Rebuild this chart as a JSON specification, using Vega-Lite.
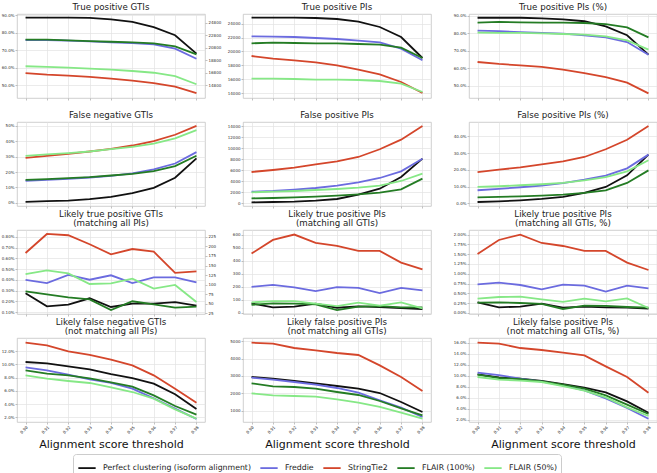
{
"$schema": "https://vega.github.io/schema/vega-lite/v6.json",
"background": "white",
"padding": {"left": 0, "top": 2, "right": 0, "bottom": 0},
"data": {"values": [
{"p":1,"s":"K","x":0.9,"v":0.887},{"p":1,"s":"K","x":0.91,"v":0.887},{"p":1,"s":"K","x":0.92,"v":0.887},{"p":1,"s":"K","x":0.93,"v":0.885},{"p":1,"s":"K","x":0.94,"v":0.877},{"p":1,"s":"K","x":0.95,"v":0.862},{"p":1,"s":"K","x":0.96,"v":0.833},{"p":1,"s":"K","x":0.97,"v":0.786},{"p":1,"s":"K","x":0.98,"v":0.681},
{"p":1,"s":"F","x":0.9,"v":0.759},{"p":1,"s":"F","x":0.91,"v":0.759},{"p":1,"s":"F","x":0.92,"v":0.755},{"p":1,"s":"F","x":0.93,"v":0.751},{"p":1,"s":"F","x":0.94,"v":0.746},{"p":1,"s":"F","x":0.95,"v":0.742},{"p":1,"s":"F","x":0.96,"v":0.734},{"p":1,"s":"F","x":0.97,"v":0.71},{"p":1,"s":"F","x":0.98,"v":0.652},
{"p":1,"s":"S","x":0.9,"v":0.57},{"p":1,"s":"S","x":0.91,"v":0.561},{"p":1,"s":"S","x":0.92,"v":0.555},{"p":1,"s":"S","x":0.93,"v":0.548},{"p":1,"s":"S","x":0.94,"v":0.538},{"p":1,"s":"S","x":0.95,"v":0.527},{"p":1,"s":"S","x":0.96,"v":0.513},{"p":1,"s":"S","x":0.97,"v":0.492},{"p":1,"s":"S","x":0.98,"v":0.456},
{"p":1,"s":"G","x":0.9,"v":0.761},{"p":1,"s":"G","x":0.91,"v":0.761},{"p":1,"s":"G","x":0.92,"v":0.757},{"p":1,"s":"G","x":0.93,"v":0.753},{"p":1,"s":"G","x":0.94,"v":0.749},{"p":1,"s":"G","x":0.95,"v":0.746},{"p":1,"s":"G","x":0.96,"v":0.74},{"p":1,"s":"G","x":0.97,"v":0.723},{"p":1,"s":"G","x":0.98,"v":0.677},
{"p":1,"s":"L","x":0.9,"v":0.609},{"p":1,"s":"L","x":0.91,"v":0.605},{"p":1,"s":"L","x":0.92,"v":0.601},{"p":1,"s":"L","x":0.93,"v":0.595},{"p":1,"s":"L","x":0.94,"v":0.59},{"p":1,"s":"L","x":0.95,"v":0.582},{"p":1,"s":"L","x":0.96,"v":0.572},{"p":1,"s":"L","x":0.97,"v":0.553},{"p":1,"s":"L","x":0.98,"v":0.506},
{"p":2,"s":"K","x":0.9,"v":24865},{"p":2,"s":"K","x":0.91,"v":24865},{"p":2,"s":"K","x":0.92,"v":24865},{"p":2,"s":"K","x":0.93,"v":24817},{"p":2,"s":"K","x":0.94,"v":24673},{"p":2,"s":"K","x":0.95,"v":24288},{"p":2,"s":"K","x":0.96,"v":23519},{"p":2,"s":"K","x":0.97,"v":22077},{"p":2,"s":"K","x":0.98,"v":19048},
{"p":2,"s":"F","x":0.9,"v":22173},{"p":2,"s":"F","x":0.91,"v":22125},{"p":2,"s":"F","x":0.92,"v":22077},{"p":2,"s":"F","x":0.93,"v":21933},{"p":2,"s":"F","x":0.94,"v":21788},{"p":2,"s":"F","x":0.95,"v":21548},{"p":2,"s":"F","x":0.96,"v":21308},{"p":2,"s":"F","x":0.97,"v":20394},{"p":2,"s":"F","x":0.98,"v":18712},
{"p":2,"s":"S","x":0.9,"v":19337},{"p":2,"s":"S","x":0.91,"v":18952},{"p":2,"s":"S","x":0.92,"v":18712},{"p":2,"s":"S","x":0.93,"v":18423},{"p":2,"s":"S","x":0.94,"v":17990},{"p":2,"s":"S","x":0.95,"v":17365},{"p":2,"s":"S","x":0.96,"v":16692},{"p":2,"s":"S","x":0.97,"v":15587},{"p":2,"s":"S","x":0.98,"v":14000},
{"p":2,"s":"G","x":0.9,"v":21163},{"p":2,"s":"G","x":0.91,"v":21260},{"p":2,"s":"G","x":0.92,"v":21212},{"p":2,"s":"G","x":0.93,"v":21163},{"p":2,"s":"G","x":0.94,"v":21163},{"p":2,"s":"G","x":0.95,"v":21067},{"p":2,"s":"G","x":0.96,"v":20971},{"p":2,"s":"G","x":0.97,"v":20538},{"p":2,"s":"G","x":0.98,"v":19048},
{"p":2,"s":"L","x":0.9,"v":16067},{"p":2,"s":"L","x":0.91,"v":16067},{"p":2,"s":"L","x":0.92,"v":16019},{"p":2,"s":"L","x":0.93,"v":15923},{"p":2,"s":"L","x":0.94,"v":15923},{"p":2,"s":"L","x":0.95,"v":15875},{"p":2,"s":"L","x":0.96,"v":15731},{"p":2,"s":"L","x":0.97,"v":15346},{"p":2,"s":"L","x":0.98,"v":14144},
{"p":3,"s":"K","x":0.9,"v":0.89},{"p":3,"s":"K","x":0.91,"v":0.89},{"p":3,"s":"K","x":0.92,"v":0.89},{"p":3,"s":"K","x":0.93,"v":0.886},{"p":3,"s":"K","x":0.94,"v":0.881},{"p":3,"s":"K","x":0.95,"v":0.87},{"p":3,"s":"K","x":0.96,"v":0.841},{"p":3,"s":"K","x":0.97,"v":0.79},{"p":3,"s":"K","x":0.98,"v":0.679},
{"p":3,"s":"F","x":0.9,"v":0.816},{"p":3,"s":"F","x":0.91,"v":0.813},{"p":3,"s":"F","x":0.92,"v":0.808},{"p":3,"s":"F","x":0.93,"v":0.804},{"p":3,"s":"F","x":0.94,"v":0.799},{"p":3,"s":"F","x":0.95,"v":0.79},{"p":3,"s":"F","x":0.96,"v":0.778},{"p":3,"s":"F","x":0.97,"v":0.751},{"p":3,"s":"F","x":0.98,"v":0.679},
{"p":3,"s":"S","x":0.9,"v":0.637},{"p":3,"s":"S","x":0.91,"v":0.626},{"p":3,"s":"S","x":0.92,"v":0.618},{"p":3,"s":"S","x":0.93,"v":0.609},{"p":3,"s":"S","x":0.94,"v":0.593},{"p":3,"s":"S","x":0.95,"v":0.574},{"p":3,"s":"S","x":0.96,"v":0.551},{"p":3,"s":"S","x":0.97,"v":0.519},{"p":3,"s":"S","x":0.98,"v":0.458},
{"p":3,"s":"G","x":0.9,"v":0.862},{"p":3,"s":"G","x":0.91,"v":0.866},{"p":3,"s":"G","x":0.92,"v":0.864},{"p":3,"s":"G","x":0.93,"v":0.862},{"p":3,"s":"G","x":0.94,"v":0.862},{"p":3,"s":"G","x":0.95,"v":0.86},{"p":3,"s":"G","x":0.96,"v":0.854},{"p":3,"s":"G","x":0.97,"v":0.835},{"p":3,"s":"G","x":0.98,"v":0.778},
{"p":3,"s":"L","x":0.9,"v":0.805},{"p":3,"s":"L","x":0.91,"v":0.803},{"p":3,"s":"L","x":0.92,"v":0.803},{"p":3,"s":"L","x":0.93,"v":0.801},{"p":3,"s":"L","x":0.94,"v":0.797},{"p":3,"s":"L","x":0.95,"v":0.793},{"p":3,"s":"L","x":0.96,"v":0.784},{"p":3,"s":"L","x":0.97,"v":0.761},{"p":3,"s":"L","x":0.98,"v":0.708},
{"p":4,"s":"K","x":0.9,"v":0.0065},{"p":4,"s":"K","x":0.91,"v":0.011},{"p":4,"s":"K","x":0.92,"v":0.015},{"p":4,"s":"K","x":0.93,"v":0.024},{"p":4,"s":"K","x":0.94,"v":0.039},{"p":4,"s":"K","x":0.95,"v":0.063},{"p":4,"s":"K","x":0.96,"v":0.098},{"p":4,"s":"K","x":0.97,"v":0.163},{"p":4,"s":"K","x":0.98,"v":0.289},
{"p":4,"s":"F","x":0.9,"v":0.143},{"p":4,"s":"F","x":0.91,"v":0.15},{"p":4,"s":"F","x":0.92,"v":0.156},{"p":4,"s":"F","x":0.93,"v":0.165},{"p":4,"s":"F","x":0.94,"v":0.176},{"p":4,"s":"F","x":0.95,"v":0.191},{"p":4,"s":"F","x":0.96,"v":0.217},{"p":4,"s":"F","x":0.97,"v":0.256},{"p":4,"s":"F","x":0.98,"v":0.33},
{"p":4,"s":"S","x":0.9,"v":0.293},{"p":4,"s":"S","x":0.91,"v":0.306},{"p":4,"s":"S","x":0.92,"v":0.319},{"p":4,"s":"S","x":0.93,"v":0.334},{"p":4,"s":"S","x":0.94,"v":0.351},{"p":4,"s":"S","x":0.95,"v":0.373},{"p":4,"s":"S","x":0.96,"v":0.401},{"p":4,"s":"S","x":0.97,"v":0.443},{"p":4,"s":"S","x":0.98,"v":0.501},
{"p":4,"s":"G","x":0.9,"v":0.15},{"p":4,"s":"G","x":0.91,"v":0.154},{"p":4,"s":"G","x":0.92,"v":0.161},{"p":4,"s":"G","x":0.93,"v":0.167},{"p":4,"s":"G","x":0.94,"v":0.178},{"p":4,"s":"G","x":0.95,"v":0.189},{"p":4,"s":"G","x":0.96,"v":0.206},{"p":4,"s":"G","x":0.97,"v":0.239},{"p":4,"s":"G","x":0.98,"v":0.306},
{"p":4,"s":"L","x":0.9,"v":0.306},{"p":4,"s":"L","x":0.91,"v":0.315},{"p":4,"s":"L","x":0.92,"v":0.323},{"p":4,"s":"L","x":0.93,"v":0.334},{"p":4,"s":"L","x":0.94,"v":0.349},{"p":4,"s":"L","x":0.95,"v":0.364},{"p":4,"s":"L","x":0.96,"v":0.386},{"p":4,"s":"L","x":0.97,"v":0.419},{"p":4,"s":"L","x":0.98,"v":0.473},
{"p":5,"s":"K","x":0.9,"v":181},{"p":5,"s":"K","x":0.91,"v":242},{"p":5,"s":"K","x":0.92,"v":302},{"p":5,"s":"K","x":0.93,"v":483},{"p":5,"s":"K","x":0.94,"v":785},{"p":5,"s":"K","x":0.95,"v":1571},{"p":5,"s":"K","x":0.96,"v":2659},{"p":5,"s":"K","x":0.97,"v":4773},{"p":5,"s":"K","x":0.98,"v":8097},
{"p":5,"s":"F","x":0.9,"v":2115},{"p":5,"s":"F","x":0.91,"v":2236},{"p":5,"s":"F","x":0.92,"v":2477},{"p":5,"s":"F","x":0.93,"v":2779},{"p":5,"s":"F","x":0.94,"v":3202},{"p":5,"s":"F","x":0.95,"v":3807},{"p":5,"s":"F","x":0.96,"v":4592},{"p":5,"s":"F","x":0.97,"v":5801},{"p":5,"s":"F","x":0.98,"v":8097},
{"p":5,"s":"S","x":0.9,"v":5680},{"p":5,"s":"S","x":0.91,"v":6042},{"p":5,"s":"S","x":0.92,"v":6465},{"p":5,"s":"S","x":0.93,"v":7069},{"p":5,"s":"S","x":0.94,"v":7613},{"p":5,"s":"S","x":0.95,"v":8399},{"p":5,"s":"S","x":0.96,"v":9800},{"p":5,"s":"S","x":0.97,"v":11540},{"p":5,"s":"S","x":0.98,"v":14020},
{"p":5,"s":"G","x":0.9,"v":906},{"p":5,"s":"G","x":0.91,"v":967},{"p":5,"s":"G","x":0.92,"v":1088},{"p":5,"s":"G","x":0.93,"v":1208},{"p":5,"s":"G","x":0.94,"v":1390},{"p":5,"s":"G","x":0.95,"v":1631},{"p":5,"s":"G","x":0.96,"v":1934},{"p":5,"s":"G","x":0.97,"v":2538},{"p":5,"s":"G","x":0.98,"v":4471},
{"p":5,"s":"L","x":0.9,"v":1994},{"p":5,"s":"L","x":0.91,"v":2115},{"p":5,"s":"L","x":0.92,"v":2236},{"p":5,"s":"L","x":0.93,"v":2417},{"p":5,"s":"L","x":0.94,"v":2598},{"p":5,"s":"L","x":0.95,"v":2840},{"p":5,"s":"L","x":0.96,"v":3202},{"p":5,"s":"L","x":0.97,"v":4048},{"p":5,"s":"L","x":0.98,"v":5378},
{"p":6,"s":"K","x":0.9,"v":0.008},{"p":6,"s":"K","x":0.91,"v":0.012},{"p":6,"s":"K","x":0.92,"v":0.018},{"p":6,"s":"K","x":0.93,"v":0.026},{"p":6,"s":"K","x":0.94,"v":0.038},{"p":6,"s":"K","x":0.95,"v":0.062},{"p":6,"s":"K","x":0.96,"v":0.098},{"p":6,"s":"K","x":0.97,"v":0.167},{"p":6,"s":"K","x":0.98,"v":0.291},
{"p":6,"s":"F","x":0.9,"v":0.078},{"p":6,"s":"F","x":0.91,"v":0.086},{"p":6,"s":"F","x":0.92,"v":0.096},{"p":6,"s":"F","x":0.93,"v":0.106},{"p":6,"s":"F","x":0.94,"v":0.121},{"p":6,"s":"F","x":0.95,"v":0.141},{"p":6,"s":"F","x":0.96,"v":0.165},{"p":6,"s":"F","x":0.97,"v":0.209},{"p":6,"s":"F","x":0.98,"v":0.291},
{"p":6,"s":"S","x":0.9,"v":0.187},{"p":6,"s":"S","x":0.91,"v":0.201},{"p":6,"s":"S","x":0.92,"v":0.215},{"p":6,"s":"S","x":0.93,"v":0.233},{"p":6,"s":"S","x":0.94,"v":0.251},{"p":6,"s":"S","x":0.95,"v":0.277},{"p":6,"s":"S","x":0.96,"v":0.323},{"p":6,"s":"S","x":0.97,"v":0.38},{"p":6,"s":"S","x":0.98,"v":0.462},
{"p":6,"s":"G","x":0.9,"v":0.036},{"p":6,"s":"G","x":0.91,"v":0.038},{"p":6,"s":"G","x":0.92,"v":0.042},{"p":6,"s":"G","x":0.93,"v":0.046},{"p":6,"s":"G","x":0.94,"v":0.052},{"p":6,"s":"G","x":0.95,"v":0.062},{"p":6,"s":"G","x":0.96,"v":0.078},{"p":6,"s":"G","x":0.97,"v":0.122},{"p":6,"s":"G","x":0.98,"v":0.197},
{"p":6,"s":"L","x":0.9,"v":0.098},{"p":6,"s":"L","x":0.91,"v":0.102},{"p":6,"s":"L","x":0.92,"v":0.108},{"p":6,"s":"L","x":0.93,"v":0.114},{"p":6,"s":"L","x":0.94,"v":0.122},{"p":6,"s":"L","x":0.95,"v":0.137},{"p":6,"s":"L","x":0.96,"v":0.157},{"p":6,"s":"L","x":0.97,"v":0.191},{"p":6,"s":"L","x":0.98,"v":0.257},
{"p":7,"s":"K","x":0.9,"v":0.00275},{"p":7,"s":"K","x":0.91,"v":0.00154},{"p":7,"s":"K","x":0.92,"v":0.0017},{"p":7,"s":"K","x":0.93,"v":0.00229},{"p":7,"s":"K","x":0.94,"v":0.00148},{"p":7,"s":"K","x":0.95,"v":0.00179},{"p":7,"s":"K","x":0.96,"v":0.00179},{"p":7,"s":"K","x":0.97,"v":0.00194},{"p":7,"s":"K","x":0.98,"v":0.0016},
{"p":7,"s":"F","x":0.9,"v":0.004},{"p":7,"s":"F","x":0.91,"v":0.00371},{"p":7,"s":"F","x":0.92,"v":0.00446},{"p":7,"s":"F","x":0.93,"v":0.00402},{"p":7,"s":"F","x":0.94,"v":0.00443},{"p":7,"s":"F","x":0.95,"v":0.00371},{"p":7,"s":"F","x":0.96,"v":0.00424},{"p":7,"s":"F","x":0.97,"v":0.00424},{"p":7,"s":"F","x":0.98,"v":0.00378},
{"p":7,"s":"S","x":0.9,"v":0.00651},{"p":7,"s":"S","x":0.91,"v":0.00828},{"p":7,"s":"S","x":0.92,"v":0.00816},{"p":7,"s":"S","x":0.93,"v":0.00732},{"p":7,"s":"S","x":0.94,"v":0.00639},{"p":7,"s":"S","x":0.95,"v":0.00688},{"p":7,"s":"S","x":0.96,"v":0.00663},{"p":7,"s":"S","x":0.97,"v":0.00465},{"p":7,"s":"S","x":0.98,"v":0.0048},
{"p":7,"s":"G","x":0.9,"v":0.00294},{"p":7,"s":"G","x":0.91,"v":0.00266},{"p":7,"s":"G","x":0.92,"v":0.00238},{"p":7,"s":"G","x":0.93,"v":0.00219},{"p":7,"s":"G","x":0.94,"v":0.0012},{"p":7,"s":"G","x":0.95,"v":0.00201},{"p":7,"s":"G","x":0.96,"v":0.00173},{"p":7,"s":"G","x":0.97,"v":0.00142},{"p":7,"s":"G","x":0.98,"v":0.00151},
{"p":7,"s":"L","x":0.9,"v":0.00455},{"p":7,"s":"L","x":0.91,"v":0.00489},{"p":7,"s":"L","x":0.92,"v":0.00461},{"p":7,"s":"L","x":0.93,"v":0.00362},{"p":7,"s":"L","x":0.94,"v":0.00368},{"p":7,"s":"L","x":0.95,"v":0.00412},{"p":7,"s":"L","x":0.96,"v":0.00319},{"p":7,"s":"L","x":0.97,"v":0.00353},{"p":7,"s":"L","x":0.98,"v":0.00194},
{"p":8,"s":"K","x":0.9,"v":71},{"p":8,"s":"K","x":0.91,"v":41},{"p":8,"s":"K","x":0.92,"v":46},{"p":8,"s":"K","x":0.93,"v":69},{"p":8,"s":"K","x":0.94,"v":38},{"p":8,"s":"K","x":0.95,"v":48},{"p":8,"s":"K","x":0.96,"v":43},{"p":8,"s":"K","x":0.97,"v":36},{"p":8,"s":"K","x":0.98,"v":28},
{"p":8,"s":"F","x":0.9,"v":199},{"p":8,"s":"F","x":0.91,"v":214},{"p":8,"s":"F","x":0.92,"v":194},{"p":8,"s":"F","x":0.93,"v":166},{"p":8,"s":"F","x":0.94,"v":196},{"p":8,"s":"F","x":0.95,"v":191},{"p":8,"s":"F","x":0.96,"v":151},{"p":8,"s":"F","x":0.97,"v":191},{"p":8,"s":"F","x":0.98,"v":171},
{"p":8,"s":"S","x":0.9,"v":454},{"p":8,"s":"S","x":0.91,"v":559},{"p":8,"s":"S","x":0.92,"v":600},{"p":8,"s":"S","x":0.93,"v":536},{"p":8,"s":"S","x":0.94,"v":513},{"p":8,"s":"S","x":0.95,"v":474},{"p":8,"s":"S","x":0.96,"v":474},{"p":8,"s":"S","x":0.97,"v":385},{"p":8,"s":"S","x":0.98,"v":332},
{"p":8,"s":"G","x":0.9,"v":61},{"p":8,"s":"G","x":0.91,"v":71},{"p":8,"s":"G","x":0.92,"v":69},{"p":8,"s":"G","x":0.93,"v":64},{"p":8,"s":"G","x":0.94,"v":20},{"p":8,"s":"G","x":0.95,"v":46},{"p":8,"s":"G","x":0.96,"v":51},{"p":8,"s":"G","x":0.97,"v":41},{"p":8,"s":"G","x":0.98,"v":41},
{"p":8,"s":"L","x":0.9,"v":79},{"p":8,"s":"L","x":0.91,"v":89},{"p":8,"s":"L","x":0.92,"v":89},{"p":8,"s":"L","x":0.93,"v":69},{"p":8,"s":"L","x":0.94,"v":51},{"p":8,"s":"L","x":0.95,"v":77},{"p":8,"s":"L","x":0.96,"v":54},{"p":8,"s":"L","x":0.97,"v":79},{"p":8,"s":"L","x":0.98,"v":33},
{"p":9,"s":"K","x":0.9,"v":0.00272},{"p":9,"s":"K","x":0.91,"v":0.00145},{"p":9,"s":"K","x":0.92,"v":0.00162},{"p":9,"s":"K","x":0.93,"v":0.00238},{"p":9,"s":"K","x":0.94,"v":0.00136},{"p":9,"s":"K","x":0.95,"v":0.00162},{"p":9,"s":"K","x":0.96,"v":0.00145},{"p":9,"s":"K","x":0.97,"v":0.00136},{"p":9,"s":"K","x":0.98,"v":0.00111},
{"p":9,"s":"F","x":0.9,"v":0.00731},{"p":9,"s":"F","x":0.91,"v":0.00774},{"p":9,"s":"F","x":0.92,"v":0.00714},{"p":9,"s":"F","x":0.93,"v":0.00604},{"p":9,"s":"F","x":0.94,"v":0.00723},{"p":9,"s":"F","x":0.95,"v":0.00697},{"p":9,"s":"F","x":0.96,"v":0.00544},{"p":9,"s":"F","x":0.97,"v":0.00697},{"p":9,"s":"F","x":0.98,"v":0.00629},
{"p":9,"s":"S","x":0.9,"v":0.01505},{"p":9,"s":"S","x":0.91,"v":0.01862},{"p":9,"s":"S","x":0.92,"v":0.02},{"p":9,"s":"S","x":0.93,"v":0.01786},{"p":9,"s":"S","x":0.94,"v":0.01709},{"p":9,"s":"S","x":0.95,"v":0.01582},{"p":9,"s":"S","x":0.96,"v":0.01582},{"p":9,"s":"S","x":0.97,"v":0.01284},{"p":9,"s":"S","x":0.98,"v":0.01097},
{"p":9,"s":"G","x":0.9,"v":0.00264},{"p":9,"s":"G","x":0.91,"v":0.00272},{"p":9,"s":"G","x":0.92,"v":0.00255},{"p":9,"s":"G","x":0.93,"v":0.0023},{"p":9,"s":"G","x":0.94,"v":0.00102},{"p":9,"s":"G","x":0.95,"v":0.00187},{"p":9,"s":"G","x":0.96,"v":0.00179},{"p":9,"s":"G","x":0.97,"v":0.00153},{"p":9,"s":"G","x":0.98,"v":0.00136},
{"p":9,"s":"L","x":0.9,"v":0.00366},{"p":9,"s":"L","x":0.91,"v":0.00408},{"p":9,"s":"L","x":0.92,"v":0.00417},{"p":9,"s":"L","x":0.93,"v":0.00349},{"p":9,"s":"L","x":0.94,"v":0.00281},{"p":9,"s":"L","x":0.95,"v":0.00366},{"p":9,"s":"L","x":0.96,"v":0.00298},{"p":9,"s":"L","x":0.97,"v":0.00374},{"p":9,"s":"L","x":0.98,"v":0.00128},
{"p":10,"s":"K","x":0.9,"v":0.1034},{"p":10,"s":"K","x":0.91,"v":0.1015},{"p":10,"s":"K","x":0.92,"v":0.0969},{"p":10,"s":"K","x":0.93,"v":0.0924},{"p":10,"s":"K","x":0.94,"v":0.0853},{"p":10,"s":"K","x":0.95,"v":0.0793},{"p":10,"s":"K","x":0.96,"v":0.0709},{"p":10,"s":"K","x":0.97,"v":0.0548},{"p":10,"s":"K","x":0.98,"v":0.0326},
{"p":10,"s":"F","x":0.9,"v":0.0954},{"p":10,"s":"F","x":0.91,"v":0.0908},{"p":10,"s":"F","x":0.92,"v":0.0843},{"p":10,"s":"F","x":0.93,"v":0.0773},{"p":10,"s":"F","x":0.94,"v":0.0718},{"p":10,"s":"F","x":0.95,"v":0.0632},{"p":10,"s":"F","x":0.96,"v":0.0487},{"p":10,"s":"F","x":0.97,"v":0.0331},{"p":10,"s":"F","x":0.98,"v":0.0175},
{"p":10,"s":"S","x":0.9,"v":0.1326},{"p":10,"s":"S","x":0.91,"v":0.1285},{"p":10,"s":"S","x":0.92,"v":0.1195},{"p":10,"s":"S","x":0.93,"v":0.114},{"p":10,"s":"S","x":0.94,"v":0.1069},{"p":10,"s":"S","x":0.95,"v":0.0984},{"p":10,"s":"S","x":0.96,"v":0.0833},{"p":10,"s":"S","x":0.97,"v":0.0632},{"p":10,"s":"S","x":0.98,"v":0.0421},
{"p":10,"s":"G","x":0.9,"v":0.0908},{"p":10,"s":"G","x":0.91,"v":0.0858},{"p":10,"s":"G","x":0.92,"v":0.0833},{"p":10,"s":"G","x":0.93,"v":0.0788},{"p":10,"s":"G","x":0.94,"v":0.0728},{"p":10,"s":"G","x":0.95,"v":0.0662},{"p":10,"s":"G","x":0.96,"v":0.0532},{"p":10,"s":"G","x":0.97,"v":0.0371},{"p":10,"s":"G","x":0.98,"v":0.024},
{"p":10,"s":"L","x":0.9,"v":0.0833},{"p":10,"s":"L","x":0.91,"v":0.0783},{"p":10,"s":"L","x":0.92,"v":0.0748},{"p":10,"s":"L","x":0.93,"v":0.0718},{"p":10,"s":"L","x":0.94,"v":0.0652},{"p":10,"s":"L","x":0.95,"v":0.0582},{"p":10,"s":"L","x":0.96,"v":0.0481},{"p":10,"s":"L","x":0.97,"v":0.0321},{"p":10,"s":"L","x":0.98,"v":0.018},
{"p":11,"s":"K","x":0.9,"v":2942},{"p":11,"s":"K","x":0.91,"v":2846},{"p":11,"s":"K","x":0.92,"v":2712},{"p":11,"s":"K","x":0.93,"v":2577},{"p":11,"s":"K","x":0.94,"v":2423},{"p":11,"s":"K","x":0.95,"v":2269},{"p":11,"s":"K","x":0.96,"v":2019},{"p":11,"s":"K","x":0.97,"v":1500},{"p":11,"s":"K","x":0.98,"v":923},
{"p":11,"s":"F","x":0.9,"v":2904},{"p":11,"s":"F","x":0.91,"v":2788},{"p":11,"s":"F","x":0.92,"v":2654},{"p":11,"s":"F","x":0.93,"v":2500},{"p":11,"s":"F","x":0.94,"v":2308},{"p":11,"s":"F","x":0.95,"v":2038},{"p":11,"s":"F","x":0.96,"v":1596},{"p":11,"s":"F","x":0.97,"v":1173},{"p":11,"s":"F","x":0.98,"v":635},
{"p":11,"s":"S","x":0.9,"v":4923},{"p":11,"s":"S","x":0.91,"v":4865},{"p":11,"s":"S","x":0.92,"v":4615},{"p":11,"s":"S","x":0.93,"v":4481},{"p":11,"s":"S","x":0.94,"v":4327},{"p":11,"s":"S","x":0.95,"v":4212},{"p":11,"s":"S","x":0.96,"v":3615},{"p":11,"s":"S","x":0.97,"v":2942},{"p":11,"s":"S","x":0.98,"v":2135},
{"p":11,"s":"G","x":0.9,"v":2577},{"p":11,"s":"G","x":0.91,"v":2404},{"p":11,"s":"G","x":0.92,"v":2365},{"p":11,"s":"G","x":0.93,"v":2269},{"p":11,"s":"G","x":0.94,"v":2077},{"p":11,"s":"G","x":0.95,"v":1904},{"p":11,"s":"G","x":0.96,"v":1558},{"p":11,"s":"G","x":0.97,"v":1135},{"p":11,"s":"G","x":0.98,"v":731},
{"p":11,"s":"L","x":0.9,"v":2000},{"p":11,"s":"L","x":0.91,"v":1885},{"p":11,"s":"L","x":0.92,"v":1846},{"p":11,"s":"L","x":0.93,"v":1808},{"p":11,"s":"L","x":0.94,"v":1654},{"p":11,"s":"L","x":0.95,"v":1462},{"p":11,"s":"L","x":0.96,"v":1212},{"p":11,"s":"L","x":0.97,"v":885},{"p":11,"s":"L","x":0.98,"v":538},
{"p":12,"s":"K","x":0.9,"v":0.1024},{"p":12,"s":"K","x":0.91,"v":0.097},{"p":12,"s":"K","x":0.92,"v":0.0945},{"p":12,"s":"K","x":0.93,"v":0.0903},{"p":12,"s":"K","x":0.94,"v":0.0848},{"p":12,"s":"K","x":0.95,"v":0.0782},{"p":12,"s":"K","x":0.96,"v":0.0697},{"p":12,"s":"K","x":0.97,"v":0.0533},{"p":12,"s":"K","x":0.98,"v":0.0327},
{"p":12,"s":"F","x":0.9,"v":0.1055},{"p":12,"s":"F","x":0.91,"v":0.1012},{"p":12,"s":"F","x":0.92,"v":0.0945},{"p":12,"s":"F","x":0.93,"v":0.0891},{"p":12,"s":"F","x":0.94,"v":0.0824},{"p":12,"s":"F","x":0.95,"v":0.0733},{"p":12,"s":"F","x":0.96,"v":0.0588},{"p":12,"s":"F","x":0.97,"v":0.0412},{"p":12,"s":"F","x":0.98,"v":0.0218},
{"p":12,"s":"S","x":0.9,"v":0.16},{"p":12,"s":"S","x":0.91,"v":0.1582},{"p":12,"s":"S","x":0.92,"v":0.1503},{"p":12,"s":"S","x":0.93,"v":0.1467},{"p":12,"s":"S","x":0.94,"v":0.1418},{"p":12,"s":"S","x":0.95,"v":0.137},{"p":12,"s":"S","x":0.96,"v":0.117},{"p":12,"s":"S","x":0.97,"v":0.0976},{"p":12,"s":"S","x":0.98,"v":0.0691},
{"p":12,"s":"G","x":0.9,"v":0.1018},{"p":12,"s":"G","x":0.91,"v":0.0958},{"p":12,"s":"G","x":0.92,"v":0.0939},{"p":12,"s":"G","x":0.93,"v":0.0897},{"p":12,"s":"G","x":0.94,"v":0.0836},{"p":12,"s":"G","x":0.95,"v":0.0764},{"p":12,"s":"G","x":0.96,"v":0.0642},{"p":12,"s":"G","x":0.97,"v":0.0473},{"p":12,"s":"G","x":0.98,"v":0.0303},
{"p":12,"s":"L","x":0.9,"v":0.0976},{"p":12,"s":"L","x":0.91,"v":0.0927},{"p":12,"s":"L","x":0.92,"v":0.0909},{"p":12,"s":"L","x":0.93,"v":0.0885},{"p":12,"s":"L","x":0.94,"v":0.0812},{"p":12,"s":"L","x":0.95,"v":0.0727},{"p":12,"s":"L","x":0.96,"v":0.0606},{"p":12,"s":"L","x":0.97,"v":0.0424},{"p":12,"s":"L","x":0.98,"v":0.0267}
]},
"columns": 3,
"spacing": {"row": 24, "column": 38},
"bounds": "flush",
"concat": [
{"title": "True positive GTIs", "width": 188, "height": 84,
 "layer": [
  {"transform": [{"filter": "datum.p == 1"}], "mark": "line",
   "encoding": {
    "x": {"field": "x", "type": "quantitative", "scale": {"domain": [0.896, 0.984], "nice": false}, "axis": {"values": [0.9,0.91,0.92,0.93,0.94,0.95,0.96,0.97,0.98], "labels": false, "title": null}},
    "y": {"field": "v", "type": "quantitative", "scale": {"domain": [0.4276, 0.9076], "nice": false, "zero": false}, "axis": {"values": [0.5,0.6,0.7,0.8,0.9], "format": ".1%", "title": null}},
    "color": {"field": "s", "type": "nominal", "scale": {"domain": ["K","F","S","G","L"]}, "legend": {"title": null, "labelExpr": "datum.label == 'K' ? 'Perfect clustering (isoform alignment)' : datum.label == 'F' ? 'Freddie' : datum.label == 'S' ? 'StringTie2' : datum.label == 'G' ? 'FLAIR (100%)' : 'FLAIR (50%)'"}}}},
  {"data": {"values": [{}]}, "mark": {"type": "rule", "opacity": 0},
   "encoding": {"y": {"datum": 20000, "type": "quantitative", "scale": {"domain": [12779, 26183], "nice": false, "zero": false}, "axis": {"orient": "right", "values": [14800,16800,18800,20800,22800,24800], "format": "d", "grid": false, "title": null}}}}
 ],
 "resolve": {"scale": {"y": "independent"}}
},
{"title": "True positive PIs", "width": 188, "height": 84,
 "transform": [{"filter": "datum.p == 2"}], "mark": "line",
 "encoding": {
  "x": {"field": "x", "type": "quantitative", "scale": {"domain": [0.896, 0.984], "nice": false}, "axis": {"values": [0.9,0.91,0.92,0.93,0.94,0.95,0.96,0.97,0.98], "labels": false, "title": null}},
  "y": {"field": "v", "type": "quantitative", "scale": {"domain": [13279, 25394], "nice": false, "zero": false}, "axis": {"values": [14000,16000,18000,20000,22000,24000], "format": "d", "title": null}},
  "color": {"field": "s", "type": "nominal", "scale": {"domain": ["K","F","S","G","L"]}, "legend": {"title": null, "labelExpr": "datum.label == 'K' ? 'Perfect clustering (isoform alignment)' : datum.label == 'F' ? 'Freddie' : datum.label == 'S' ? 'StringTie2' : datum.label == 'G' ? 'FLAIR (100%)' : 'FLAIR (50%)'"}}}
},
{"title": "True positive PIs (%)", "width": 188, "height": 84,
 "transform": [{"filter": "datum.p == 3"}], "mark": "line",
 "encoding": {
  "x": {"field": "x", "type": "quantitative", "scale": {"domain": [0.896, 0.984], "nice": false}, "axis": {"values": [0.9,0.91,0.92,0.93,0.94,0.95,0.96,0.97,0.98], "labels": false, "title": null}},
  "y": {"field": "v", "type": "quantitative", "scale": {"domain": [0.4314, 0.9114], "nice": false, "zero": false}, "axis": {"values": [0.5,0.6,0.7,0.8,0.9], "format": ".1%", "title": null}},
  "color": {"field": "s", "type": "nominal", "scale": {"domain": ["K","F","S","G","L"]}, "legend": {"title": null, "labelExpr": "datum.label == 'K' ? 'Perfect clustering (isoform alignment)' : datum.label == 'F' ? 'Freddie' : datum.label == 'S' ? 'StringTie2' : datum.label == 'G' ? 'FLAIR (100%)' : 'FLAIR (50%)'"}}}
},
{"title": "False negative GTIs", "width": 188, "height": 84,
 "transform": [{"filter": "datum.p == 4"}], "mark": "line",
 "encoding": {
  "x": {"field": "x", "type": "quantitative", "scale": {"domain": [0.896, 0.984], "nice": false}, "axis": {"values": [0.9,0.91,0.92,0.93,0.94,0.95,0.96,0.97,0.98], "labels": false, "title": null}},
  "y": {"field": "v", "type": "quantitative", "scale": {"domain": [-0.0206, 0.526], "nice": false, "zero": false}, "axis": {"values": [0,0.1,0.2,0.3,0.4,0.5], "format": ".0%", "title": null}},
  "color": {"field": "s", "type": "nominal", "scale": {"domain": ["K","F","S","G","L"]}, "legend": {"title": null, "labelExpr": "datum.label == 'K' ? 'Perfect clustering (isoform alignment)' : datum.label == 'F' ? 'Freddie' : datum.label == 'S' ? 'StringTie2' : datum.label == 'G' ? 'FLAIR (100%)' : 'FLAIR (50%)'"}}}
},
{"title": "False positive PIs", "width": 188, "height": 84,
 "transform": [{"filter": "datum.p == 5"}], "mark": "line",
 "encoding": {
  "x": {"field": "x", "type": "quantitative", "scale": {"domain": [0.896, 0.984], "nice": false}, "axis": {"values": [0.9,0.91,0.92,0.93,0.94,0.95,0.96,0.97,0.98], "labels": false, "title": null}},
  "y": {"field": "v", "type": "quantitative", "scale": {"domain": [-483, 14743], "nice": false, "zero": false}, "axis": {"values": [0,2000,4000,6000,8000,10000,12000,14000], "format": "d", "title": null}},
  "color": {"field": "s", "type": "nominal", "scale": {"domain": ["K","F","S","G","L"]}, "legend": {"title": null, "labelExpr": "datum.label == 'K' ? 'Perfect clustering (isoform alignment)' : datum.label == 'F' ? 'Freddie' : datum.label == 'S' ? 'StringTie2' : datum.label == 'G' ? 'FLAIR (100%)' : 'FLAIR (50%)'"}}}
},
{"title": "False positive PIs (%)", "width": 188, "height": 84,
 "transform": [{"filter": "datum.p == 6"}], "mark": "line",
 "encoding": {
  "x": {"field": "x", "type": "quantitative", "scale": {"domain": [0.896, 0.984], "nice": false}, "axis": {"values": [0.9,0.91,0.92,0.93,0.94,0.95,0.96,0.97,0.98], "labels": false, "title": null}},
  "y": {"field": "v", "type": "quantitative", "scale": {"domain": [-0.016, 0.486], "nice": false, "zero": false}, "axis": {"values": [0,0.1,0.2,0.3,0.4], "format": ".1%", "title": null}},
  "color": {"field": "s", "type": "nominal", "scale": {"domain": ["K","F","S","G","L"]}, "legend": {"title": null, "labelExpr": "datum.label == 'K' ? 'Perfect clustering (isoform alignment)' : datum.label == 'F' ? 'Freddie' : datum.label == 'S' ? 'StringTie2' : datum.label == 'G' ? 'FLAIR (100%)' : 'FLAIR (50%)'"}}}
},
{"title": ["Likely true positive GTIs", "(matching all PIs)"], "width": 188, "height": 84,
 "layer": [
  {"transform": [{"filter": "datum.p == 7"}], "mark": "line",
   "encoding": {
    "x": {"field": "x", "type": "quantitative", "scale": {"domain": [0.896, 0.984], "nice": false}, "axis": {"values": [0.9,0.91,0.92,0.93,0.94,0.95,0.96,0.97,0.98], "labels": false, "title": null}},
    "y": {"field": "v", "type": "quantitative", "scale": {"domain": [0.000826, 0.00865], "nice": false, "zero": false}, "axis": {"values": [0.001,0.002,0.003,0.004,0.005,0.006,0.007,0.008], "format": ".2%", "title": null}},
    "color": {"field": "s", "type": "nominal", "scale": {"domain": ["K","F","S","G","L"]}, "legend": {"title": null, "labelExpr": "datum.label == 'K' ? 'Perfect clustering (isoform alignment)' : datum.label == 'F' ? 'Freddie' : datum.label == 'S' ? 'StringTie2' : datum.label == 'G' ? 'FLAIR (100%)' : 'FLAIR (50%)'"}}}},
  {"data": {"values": [{}]}, "mark": {"type": "rule", "opacity": 0},
   "encoding": {"y": {"datum": 100, "type": "quantitative", "scale": {"domain": [22.4, 243.4], "nice": false, "zero": false}, "axis": {"orient": "right", "values": [25,50,75,100,125,150,175,200,225], "format": "d", "grid": false, "title": null}}}}
 ],
 "resolve": {"scale": {"y": "independent"}}
},
{"title": ["Likely true positive PIs", "(matching all GTIs)"], "width": 188, "height": 84,
 "transform": [{"filter": "datum.p == 8"}], "mark": "line",
 "encoding": {
  "x": {"field": "x", "type": "quantitative", "scale": {"domain": [0.896, 0.984], "nice": false}, "axis": {"values": [0.9,0.91,0.92,0.93,0.94,0.95,0.96,0.97,0.98], "labels": false, "title": null}},
  "y": {"field": "v", "type": "quantitative", "scale": {"domain": [-10, 635], "nice": false, "zero": false}, "axis": {"values": [0,100,200,300,400,500,600], "format": "d", "title": null}},
  "color": {"field": "s", "type": "nominal", "scale": {"domain": ["K","F","S","G","L"]}, "legend": {"title": null, "labelExpr": "datum.label == 'K' ? 'Perfect clustering (isoform alignment)' : datum.label == 'F' ? 'Freddie' : datum.label == 'S' ? 'StringTie2' : datum.label == 'G' ? 'FLAIR (100%)' : 'FLAIR (50%)'"}}}
},
{"title": ["Likely true positive PIs", "(matching all GTIs, %)"], "width": 188, "height": 84,
 "transform": [{"filter": "datum.p == 9"}], "mark": "line",
 "encoding": {
  "x": {"field": "x", "type": "quantitative", "scale": {"domain": [0.896, 0.984], "nice": false}, "axis": {"values": [0.9,0.91,0.92,0.93,0.94,0.95,0.96,0.97,0.98], "labels": false, "title": null}},
  "y": {"field": "v", "type": "quantitative", "scale": {"domain": [-0.00026, 0.02117], "nice": false, "zero": false}, "axis": {"values": [0,0.0025,0.005,0.0075,0.01,0.0125,0.015,0.0175,0.02], "format": ".2%", "title": null}},
  "color": {"field": "s", "type": "nominal", "scale": {"domain": ["K","F","S","G","L"]}, "legend": {"title": null, "labelExpr": "datum.label == 'K' ? 'Perfect clustering (isoform alignment)' : datum.label == 'F' ? 'Freddie' : datum.label == 'S' ? 'StringTie2' : datum.label == 'G' ? 'FLAIR (100%)' : 'FLAIR (50%)'"}}}
},
{"title": ["Likely false negative GTIs", "(not matching all PIs)"], "width": 188, "height": 84,
 "transform": [{"filter": "datum.p == 10"}], "mark": "line",
 "encoding": {
  "x": {"field": "x", "type": "quantitative", "scale": {"domain": [0.896, 0.984], "nice": false}, "axis": {"values": [0.9,0.91,0.92,0.93,0.94,0.95,0.96,0.97,0.98], "format": ".2f", "labelAngle": -45, "title": "Alignment score threshold"}},
  "y": {"field": "v", "type": "quantitative", "scale": {"domain": [0.013, 0.1396], "nice": false, "zero": false}, "axis": {"values": [0.02,0.04,0.06,0.08,0.1,0.12], "format": ".1%", "title": null}},
  "color": {"field": "s", "type": "nominal", "scale": {"domain": ["K","F","S","G","L"]}, "legend": {"title": null, "labelExpr": "datum.label == 'K' ? 'Perfect clustering (isoform alignment)' : datum.label == 'F' ? 'Freddie' : datum.label == 'S' ? 'StringTie2' : datum.label == 'G' ? 'FLAIR (100%)' : 'FLAIR (50%)'"}}}
},
{"title": ["Likely false positive PIs", "(not matching all GTIs)"], "width": 188, "height": 84,
 "transform": [{"filter": "datum.p == 11"}], "mark": "line",
 "encoding": {
  "x": {"field": "x", "type": "quantitative", "scale": {"domain": [0.896, 0.984], "nice": false}, "axis": {"values": [0.9,0.91,0.92,0.93,0.94,0.95,0.96,0.97,0.98], "format": ".2f", "labelAngle": -45, "title": "Alignment score threshold"}},
  "y": {"field": "v", "type": "quantitative", "scale": {"domain": [346, 5192], "nice": false, "zero": false}, "axis": {"values": [1000,2000,3000,4000,5000], "format": "d", "title": null}},
  "color": {"field": "s", "type": "nominal", "scale": {"domain": ["K","F","S","G","L"]}, "legend": {"title": null, "labelExpr": "datum.label == 'K' ? 'Perfect clustering (isoform alignment)' : datum.label == 'F' ? 'Freddie' : datum.label == 'S' ? 'StringTie2' : datum.label == 'G' ? 'FLAIR (100%)' : 'FLAIR (50%)'"}}}
},
{"title": ["Likely false positive PIs", "(not matching all GTIs, %)"], "width": 188, "height": 84,
 "transform": [{"filter": "datum.p == 12"}], "mark": "line",
 "encoding": {
  "x": {"field": "x", "type": "quantitative", "scale": {"domain": [0.896, 0.984], "nice": false}, "axis": {"values": [0.9,0.91,0.92,0.93,0.94,0.95,0.96,0.97,0.98], "format": ".2f", "labelAngle": -45, "title": "Alignment score threshold"}},
  "y": {"field": "v", "type": "quantitative", "scale": {"domain": [0.0158, 0.1685], "nice": false, "zero": false}, "axis": {"values": [0.02,0.04,0.06,0.08,0.1,0.12,0.14,0.16], "format": ".1%", "title": null}},
  "color": {"field": "s", "type": "nominal", "scale": {"domain": ["K","F","S","G","L"]}, "legend": {"title": null, "labelExpr": "datum.label == 'K' ? 'Perfect clustering (isoform alignment)' : datum.label == 'F' ? 'Freddie' : datum.label == 'S' ? 'StringTie2' : datum.label == 'G' ? 'FLAIR (100%)' : 'FLAIR (50%)'"}}}
}
],
"config": {
 "font": "DejaVu Sans",
 "view": {"stroke": "#c4c4c4", "strokeWidth": 0.8},
 "range": {"category": ["#111111", "#6b6bdf", "#d4462b", "#247c24", "#86e886"]},
 "line": {"strokeWidth": 1.8},
 "axis": {"labelFont": "DejaVu Sans", "labelFontSize": 4, "labelColor": "#333333", "labelPadding": 1, "tickSize": 2, "tickColor": "#999999", "tickWidth": 0.6, "domain": false, "gridColor": "#e2e2e2", "gridWidth": 0.7, "titleFont": "DejaVu Sans", "titleFontSize": 11, "titleFontWeight": "normal", "titleColor": "#111111", "titlePadding": 4},
 "title": {"font": "DejaVu Sans", "fontSize": 8.7, "fontWeight": "normal", "color": "#222222", "offset": 2, "lineHeight": 9.5},
 "legend": {"orient": "none", "legendX": 56, "legendY": 440, "direction": "horizontal", "symbolType": "stroke", "symbolSize": 300, "symbolStrokeWidth": 2.5, "labelFont": "DejaVu Sans", "labelFontSize": 7.8, "labelColor": "#222222", "labelOffset": 6, "labelLimit": 300, "columnPadding": 5, "strokeColor": "#cccccc", "padding": 4, "cornerRadius": 3, "fillColor": "white"}
}
}
